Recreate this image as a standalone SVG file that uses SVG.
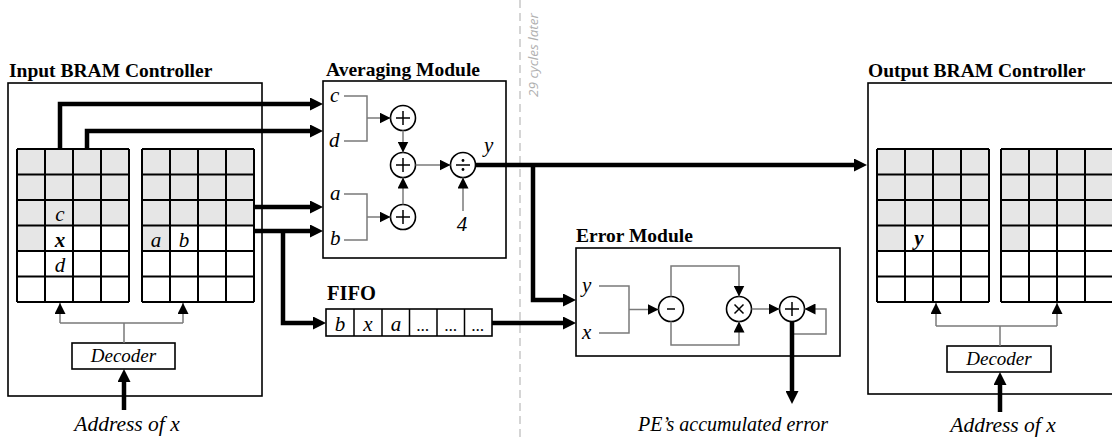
<svg xmlns="http://www.w3.org/2000/svg" xmlns:xlink="http://www.w3.org/1999/xlink" width="1112" height="438" viewBox="0 0 1112 438">
<style>
.title{font-family:"Liberation Serif",serif;font-weight:bold;font-size:19.5px;fill:#000}
.lbl{font-family:"Liberation Serif",serif;font-style:italic;font-size:21px;fill:#000}
.lblb{font-family:"Liberation Serif",serif;font-style:italic;font-weight:bold;font-size:21px;fill:#000}
.dec{font-family:"Liberation Serif",serif;font-style:italic;font-size:19px;fill:#000}
.cap{font-family:"Liberation Serif",serif;font-style:italic;font-size:20px;fill:#000}
.box{fill:#fff;stroke:#000;stroke-width:1.6}
.thick{fill:none;stroke:#000;stroke-width:4.5}
.thin{fill:none;stroke:#7a7a7a;stroke-width:1.5}
.op{fill:#fff;stroke:#000;stroke-width:1.6}
.sym{fill:none;stroke:#000;stroke-width:1.5}
.gl{stroke:#000;stroke-width:2;fill:none}
</style>
<defs>
<marker id="ta" markerUnits="userSpaceOnUse" markerWidth="13" markerHeight="13" refX="5" refY="6.5" orient="auto"><path d="M0,0 L13,6.5 L0,13 z" fill="#000"/></marker>
<marker id="sa" markerUnits="userSpaceOnUse" markerWidth="11" markerHeight="11" refX="11" refY="5.5" orient="auto"><path d="M0,0 L11,5.5 L0,11 z" fill="#000"/></marker>
<g id="grid">
<rect x="0" y="0" width="112" height="153" fill="#fff"/>
<rect x="0" y="0" width="112" height="76.5" fill="#e6e6e6"/>
<rect x="0" y="76.5" width="28" height="25.5" fill="#e6e6e6"/>
<path class="gl" d="M0,0 V153 M28,0 V153 M56,0 V153 M84,0 V153 M112,0 V153 M0,0 H112 M0,25.5 H112 M0,51 H112 M0,76.5 H112 M0,102 H112 M0,127.5 H112 M0,153 H112"/>
</g>
</defs>
<rect width="1112" height="438" fill="#fff"/>

<g id="divider">
<line x1="520" y1="0" x2="520" y2="438" stroke="#c8c8c8" stroke-width="1.5" stroke-dasharray="8,5"/>
<text transform="translate(538,97) rotate(-90)" font-family="Open Sans, sans-serif" font-style="italic" font-size="13.5" fill="#b0b0b0">29 cycles later</text>
</g>

<g id="input-bram">
<text class="title" x="9" y="77">Input BRAM Controller</text>
<rect class="box" x="8" y="83" width="254" height="313"/>
<use xlink:href="#grid" x="17" y="149"/>
<use xlink:href="#grid" x="142" y="149"/>
<text class="lbl" x="60" y="221" text-anchor="middle">c</text>
<text class="lblb" x="60" y="247" text-anchor="middle">x</text>
<text class="lbl" x="60" y="272" text-anchor="middle">d</text>
<text class="lbl" x="156" y="247" text-anchor="middle">a</text>
<text class="lbl" x="184" y="247" text-anchor="middle">b</text>
</g>

<g id="input-decoder">
<rect class="box" x="72" y="343" width="103" height="26"/>
<text class="dec" x="123.5" y="362" text-anchor="middle">Decoder</text>
</g>

<g id="averaging-module">
<text class="title" x="326" y="76">Averaging Module</text>
<rect class="box" x="323" y="81" width="183" height="177"/>
<text class="lbl" x="330" y="102">c</text>
<text class="lbl" x="329" y="147">d</text>
<text class="lbl" x="330" y="200">a</text>
<text class="lbl" x="330" y="245">b</text>
<text class="lbl" x="462" y="231" text-anchor="middle">4</text>
<text class="lbl" x="484" y="152">y</text>
<circle class="op" cx="403" cy="118" r="12.5"/>
<path class="sym" d="M396,118 H410 M403,111 V125"/>
<circle class="op" cx="403" cy="165" r="12.5"/>
<path class="sym" d="M396,165 H410 M403,158 V172"/>
<circle class="op" cx="403" cy="217" r="12.5"/>
<path class="sym" d="M396,217 H410 M403,210 V224"/>
<circle class="op" cx="463" cy="165" r="12.5"/>
<path class="sym" d="M456,165 H470"/>
<circle cx="463" cy="160.5" r="1.4" fill="#000"/>
<circle cx="463" cy="169.5" r="1.4" fill="#000"/>
</g>

<g id="fifo">
<text class="title" x="327" y="300" style="font-size:20.5px">FIFO</text>
<rect class="box" x="326" y="309" width="166" height="27"/>
<path class="sym" d="M354,309 V336 M382,309 V336 M409.5,309 V336 M437,309 V336 M464.5,309 V336"/>
<text class="lbl" x="340" y="331" text-anchor="middle">b</text>
<text class="lbl" x="368" y="331" text-anchor="middle">x</text>
<text class="lbl" x="396" y="331" text-anchor="middle">a</text>
<text class="lbl" x="423" y="331" text-anchor="middle" style="font-size:17px">...</text>
<text class="lbl" x="451" y="331" text-anchor="middle" style="font-size:17px">...</text>
<text class="lbl" x="478" y="331" text-anchor="middle" style="font-size:17px">...</text>
</g>

<g id="error-module">
<text class="title" x="576" y="242">Error Module</text>
<rect class="box" x="576" y="248" width="264" height="108"/>
<text class="lbl" x="582" y="292">y</text>
<text class="lbl" x="582" y="339">x</text>
<circle class="op" cx="671" cy="309" r="12.5"/>
<path class="sym" d="M667,309 H675"/>
<circle class="op" cx="739" cy="309" r="12.5"/>
<path class="sym" d="M734.5,304.5 L743.5,313.5 M743.5,304.5 L734.5,313.5"/>
<circle class="op" cx="792" cy="309" r="12.5"/>
<path class="sym" d="M785,309 H799 M792,302 V316"/>
</g>

<g id="output-bram">
<text class="title" x="868" y="77">Output BRAM Controller</text>
<rect class="box" x="868" y="83" width="260" height="311"/>
<use xlink:href="#grid" x="877" y="149"/>
<use xlink:href="#grid" x="1001" y="149"/>
<text class="lblb" x="919" y="245" text-anchor="middle">y</text>
</g>

<g id="output-decoder">
<rect class="box" x="947" y="346" width="104" height="26"/>
<text class="dec" x="999" y="365" text-anchor="middle">Decoder</text>
</g>

<g id="captions">
<text class="cap" x="127" y="431" text-anchor="middle" style="font-size:21.5px">Address of x</text>
<text class="cap" x="733" y="431" text-anchor="middle">PE’s accumulated error</text>
<text class="cap" x="1003" y="432" text-anchor="middle" style="font-size:21.5px">Address of x</text>
</g>

<g id="connectors">
<path class="thin" d="M344,96 H367 V141 H344"/>
<path class="thin" d="M367,118 H390.5" marker-end="url(#sa)"/>
<path class="thin" d="M344,194 H367 V240 H344"/>
<path class="thin" d="M367,217 H390.5" marker-end="url(#sa)"/>
<path class="thin" d="M403,130.5 V152.5" marker-end="url(#sa)"/>
<path class="thin" d="M403,204.5 V177.5" marker-end="url(#sa)"/>
<path class="thin" d="M415.5,165 H450.5" marker-end="url(#sa)"/>
<path class="thin" d="M463,211 V177.5" marker-end="url(#sa)"/>
<path class="thin" d="M599,286 H629 V333 H599"/>
<path class="thin" d="M629,309.5 H658.5" marker-end="url(#sa)"/>
<path class="thin" d="M671,296.5 V266 H739 V296.5" marker-end="url(#sa)"/>
<path class="thin" d="M671,321.5 V345 H739 V321.5" marker-end="url(#sa)"/>
<path class="thin" d="M751.5,309 H779.5" marker-end="url(#sa)"/>
<path class="thin" d="M792,334 H826 V309 H804.5" marker-end="url(#sa)"/>
<path class="thin" d="M124,343 V323 M60,323 H183"/>
<path class="thin" d="M60,323 V303" marker-end="url(#sa)"/>
<path class="thin" d="M183,323 V303" marker-end="url(#sa)"/>
<path class="thin" d="M1000,346 V326 M936,326 H1057"/>
<path class="thin" d="M936,326 V303" marker-end="url(#sa)"/>
<path class="thin" d="M1057,326 V303" marker-end="url(#sa)"/>
<path class="thick" d="M60,149 V104 H315" marker-end="url(#ta)"/>
<path class="thick" d="M87,149 V131 H315" marker-end="url(#ta)"/>
<path class="thick" d="M255,207 H315" marker-end="url(#ta)"/>
<path class="thick" d="M255,231 H315" marker-end="url(#ta)"/>
<path class="thick" d="M283,231 V323 H318" marker-end="url(#ta)"/>
<path class="thick" d="M492,323 H568" marker-end="url(#ta)"/>
<path class="thick" d="M475.5,165 H859" marker-end="url(#ta)"/>
<path class="thick" d="M533,165 V300 H568" marker-end="url(#ta)"/>
<path class="thick" d="M792,321.5 V396" marker-end="url(#ta)"/>
<path class="thick" d="M124,410 V377" marker-end="url(#ta)"/>
<path class="thick" d="M1000,412 V380" marker-end="url(#ta)"/>
</g>
</svg>
